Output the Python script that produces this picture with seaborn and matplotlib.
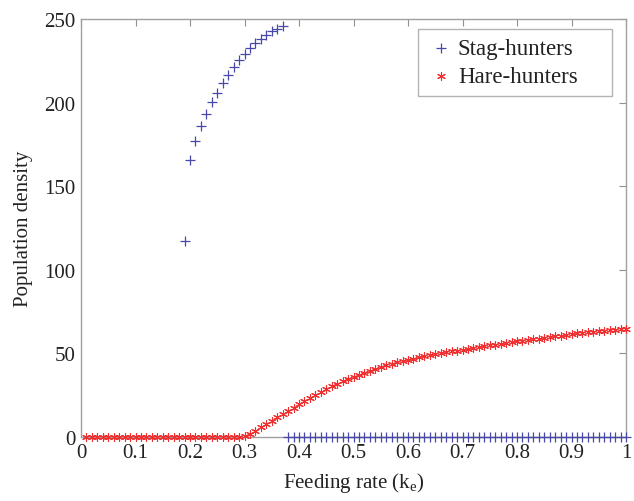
import matplotlib
matplotlib.use('Agg')
import matplotlib.pyplot as plt
import numpy as np
import pandas as pd
import seaborn as sns

# feeding rate k_e, step 0.01
feeding_rate = [round(0.01 * i, 2) for i in range(1, 101)]

# stag-hunters: upper branch 0.19..0.37, extinct from 0.38
stag_x = [0.19, 0.20, 0.21, 0.22, 0.23, 0.24, 0.25, 0.26, 0.27, 0.28,
          0.29, 0.30, 0.31, 0.32, 0.33, 0.34, 0.35, 0.36, 0.37]
stag_y = [117.5, 165.8, 177.2, 186.2, 193.2, 200.2, 205.7, 211.5, 216.5, 221.1,
          225.3, 229.1, 232.5, 235.6, 238.0, 240.4, 242.6, 244.0, 246.0]
stag_x += [round(0.01 * i, 2) for i in range(38, 101)]
stag_y += [0.0] * 63

hare_y = [0.0] * 29 + [
    0.3, 1.8, 3.7, 5.7, 7.7, 9.7, 11.7, 13.6, 15.6, 17.6,
    19.6, 21.6, 23.5, 25.3, 27.1, 28.8, 30.4, 31.9, 33.3, 34.7,
    36.0, 37.3, 38.5, 39.7, 40.8, 41.9, 42.9, 43.8, 44.6, 45.4,
    46.2, 46.9, 47.6, 48.2, 48.8, 49.4, 50.0, 50.6, 51.2, 51.7,
    52.2, 52.8, 53.3, 53.8, 54.3, 54.8, 55.3, 55.8, 56.3, 56.8,
    57.2, 57.6, 58.0, 58.4, 58.8, 59.2, 59.9, 60.3, 60.7, 61.1,
    61.5, 61.9, 62.3, 62.6, 62.9, 63.3, 63.6, 63.9, 64.2, 64.5,
    64.8]

sns.set_style('white')
plt.rcParams['font.family'] = ['Liberation Serif', 'DejaVu Serif']

fig = plt.figure(figsize=(6.34, 5.02), dpi=100)
ax = fig.add_axes([0.1278, 0.1275, 0.8596, 0.8327])

stag = pd.DataFrame({'x': stag_x, 'y': stag_y})
hare = pd.DataFrame({'x': feeding_rate, 'y': hare_y})

sns.scatterplot(data=stag, x='x', y='y', marker='+', color='#4848a8',
                s=60, linewidth=0.9, ax=ax, label='Stag-hunters', zorder=3,
                clip_on=False)
sns.scatterplot(data=hare, x='x', y='y', marker=(6, 2, 0), color='#f03030',
                s=32, linewidth=0.8, ax=ax, label='Hare-hunters', zorder=4,
                clip_on=False)

ax.set_xlim(0, 1)
ax.set_ylim(0, 250)
ax.set_xticks(np.arange(0, 1.01, 0.1))
ax.set_xticklabels(['0', '0.1', '0.2', '0.3', '0.4', '0.5', '0.6', '0.7', '0.8', '0.9', '1'])
ax.set_yticks([0, 50, 100, 150, 200, 250])

for sp in ax.spines.values():
    sp.set_color('#a0a0a0')
    sp.set_linewidth(1.0)
ax.tick_params(direction='in', length=5, width=0.8, color='#909090',
               top=True, right=True, labelsize=15, labelcolor='#222222', pad=4)

ax.set_xlabel('Feeding rate (k$_\\mathregular{e}$)', fontsize=15, color='#222222', labelpad=6)
ax.set_ylabel('Population density', fontsize=15, color='#222222', labelpad=8)

# wide legend box, text left-aligned with empty room on the right
leg = ax.legend(loc='upper left', fontsize=16.5, frameon=True, fancybox=False,
                borderpad=0.4, handletextpad=0.1, handlelength=1.25,
                borderaxespad=0, mode='expand',
                bbox_to_anchor=(0.618, 0.5, 0.356, 0.476), labelspacing=0.3)
leg.get_frame().set_edgecolor('#a0a0a0')
leg.get_frame().set_linewidth(1.0)
for t in leg.get_texts():
    t.set_color('#222222')

fig.savefig('out.png', dpi=100)
